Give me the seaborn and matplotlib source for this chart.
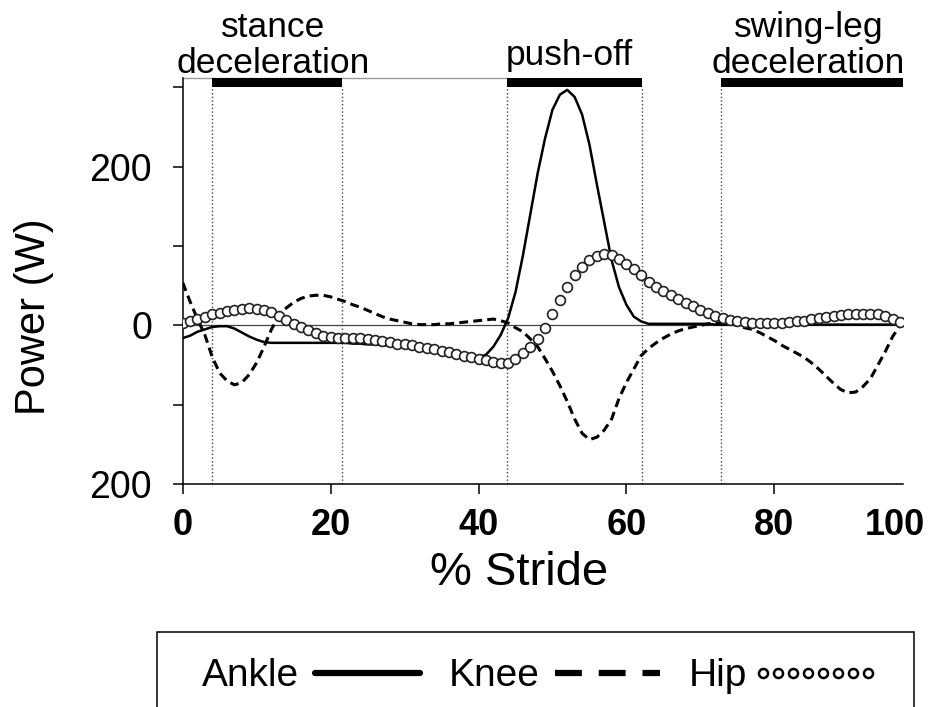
import numpy as np
import seaborn as sns
import matplotlib
matplotlib.use('Agg')
import matplotlib.pyplot as plt
from matplotlib.lines import Line2D
from matplotlib.patches import Rectangle

# % stride grid (axis units as drawn in the figure)
stride = np.arange(0, 98)

ankle = [-16, -13, -8, -5, -2, -1, -1, -4, -9, -14,
         -18, -21, -22, -22, -22, -22, -22, -22, -22, -22,
         -22, -22, -22, -23, -23, -24, -24, -25, -25, -26,
         -27, -28, -29, -30, -31, -32, -33, -34, -36, -38,
         -40, -37, -27, -12, 9, 42, 88, 140, 192, 236,
         272, 291, 297, 288, 266, 228, 178, 130, 82, 48,
         26, 11, 5, 2, 2, 2, 2, 2, 2, 2,
         2, 2, 1, 1, 1, 1, 1, 1, 1, 1,
         1, 1, 1, 1, 1, 1, 1, 1, 1, 1,
         1, 1, 1, 1, 1, 1, 1, 1]

knee = [54, 30, 8, -12, -40, -60, -70, -75, -72, -62,
        -47, -27, -5, 12, 22, 29, 34, 37, 38, 38,
        36, 33, 30, 26, 23, 19, 15, 11, 8, 6,
        4, 2, 1, 1, 1, 2, 2, 3, 4, 5,
        6, 7, 8, 6, 3, -3, -8, -17, -27, -42,
        -58, -76, -96, -118, -136, -144, -141, -132, -118, -92,
        -72, -55, -38, -29, -22, -16, -11, -7, -4, -2,
        0, 2, 3, 3, 2, 0, -3, -5, -9, -14,
        -19, -25, -30, -35, -40, -47, -55, -64, -73, -81,
        -85, -84, -77, -67, -50, -33, -14, 0]

hip = [3, 5, 8, 11, 14, 16, 18, 20, 21, 22,
       21, 20, 17, 12, 7, 2, -2, -6, -10, -13,
       -15, -16, -16, -16, -16, -17, -18, -20, -21, -23,
       -24, -25, -27, -28, -30, -32, -34, -36, -38, -40,
       -42, -44, -46, -47, -47, -42, -35, -27, -17, -3,
       14, 32, 48, 63, 74, 82, 88, 90, 89, 84,
       78, 71, 63, 55, 49, 44, 38, 33, 28, 24,
       19, 16, 12, 9, 7, 5, 4, 3, 3, 3,
       3, 3, 4, 5, 6, 8, 9, 11, 12, 13,
       14, 15, 15, 15, 14, 12, 8, 4]

phase_labels = ['stance\ndeceleration', 'push-off', 'swing-leg\ndeceleration']
phase_start = [3.9, 43.8, 72.8]
phase_end = [21.6, 62.1, 97.4]
phase_text_x = [12.2, 52.3, 84.6]
boundaries = [3.9, 21.6, 43.8, 62.1, 72.8]

xtick_pos = [0, 20, 40, 60, 80, 96.3]
xtick_labels = ['0', '20', '40', '60', '80', '100']
ytick_pos = [-200, -100, 0, 100, 200, 300]
ytick_labels = ['200', '', '0', '', '200', '']

sns.set_theme(style='ticks')
plt.rcParams['font.family'] = ['Liberation Sans', 'DejaVu Sans']
plt.rcParams['text.color'] = 'black'
plt.rcParams['axes.labelcolor'] = 'black'
plt.rcParams['xtick.color'] = 'black'
plt.rcParams['ytick.color'] = 'black'

fig = plt.figure(figsize=(9.35, 7.07), dpi=100)
ax = fig.add_axes([0.1954, 0.3154, 0.7704, 0.5743])

ax.axhline(0, color='#444444', lw=0.9, zorder=1)
for b in boundaries:
    ax.axvline(b, ymax=0.978, color='#444444', lw=1.0, ls=':', zorder=1)
for s, e in zip(phase_start, phase_end):
    ax.axvspan(s, e, ymin=0.978, ymax=1.0, color='black', lw=0, zorder=3)
ax.hlines(1.0, 0, phase_start[1], transform=ax.get_xaxis_transform(),
          color='#999999', lw=1.0, clip_on=False)

sns.lineplot(x=stride, y=ankle, ax=ax, color='black', linewidth=1.8, estimator=None, zorder=2)
sns.lineplot(x=stride, y=knee, ax=ax, color='black', linewidth=2.2, estimator=None,
             linestyle=(0, (2.9, 1.7)), zorder=2)
sns.scatterplot(x=stride, y=hip, ax=ax, marker='o', s=50, color='white',
                edgecolor='#222222', linewidth=1.2, zorder=4)

ax.set_xlim(0, 97.4)
ax.set_ylim(-200, 312)
ax.set_xticks(xtick_pos)
ax.set_xticklabels(xtick_labels, fontsize=26, fontweight='bold')
ax.xaxis.get_major_ticks()[-1].tick1line.set_visible(False)
ax.set_yticks(ytick_pos)
ax.set_yticklabels(ytick_labels, fontsize=27)
ax.tick_params(axis='y', length=7, width=1.1, pad=15, color='black')
ax.tick_params(axis='x', length=7, width=1.1, pad=10, color='black')

ax.set_xlabel('% Stride', fontsize=34)
ax.set_ylabel('Power (W)', fontsize=30)
ax.xaxis.set_label_coords(0.467, -0.165)
ax.yaxis.set_label_coords(-0.179, 0.411)

sns.despine(ax=ax)
for sp in ['left', 'bottom']:
    ax.spines[sp].set_color('black')
    ax.spines[sp].set_linewidth(1.1)

trans = ax.get_xaxis_transform()
for lab, xt in zip(phase_labels, phase_text_x):
    if '\n' in lab:
        ax.text(xt, 0.994, lab, transform=trans, ha='center', va='bottom',
                fontsize=25.5, linespacing=1.15, multialignment='center')
    else:
        ax.text(xt, 1.032, lab, transform=trans, ha='center', va='baseline',
                fontsize=25.5)

# legend box runs off the bottom of the figure, as in the source
fig.add_artist(Rectangle((0.168, -0.05), 0.8096, 0.1561, transform=fig.transFigure,
                         fill=False, ec='black', lw=1.1))

handles = [
    Line2D([], [], color='black', lw=4.5, label='Ankle'),
    Line2D([], [], color='black', lw=4.5, ls=(0, (4.3, 2.7)), label='Knee'),
    Line2D([], [], color='black', ls='none', marker='o', ms=6.5, mfc='white',
           mec='black', mew=1.8, label='Hip'),
]
leg = fig.legend(handles=handles, loc='upper left', ncol=3, mode='expand',
                 bbox_to_anchor=(0.216, 0.0, 0.725, 0.069), fontsize=28,
                 markerfirst=False, numpoints=8, handlelength=3.3,
                 handletextpad=0.1, columnspacing=0.6, borderpad=0,
                 borderaxespad=0, frameon=False)

fig.savefig('out.png', dpi=100)
